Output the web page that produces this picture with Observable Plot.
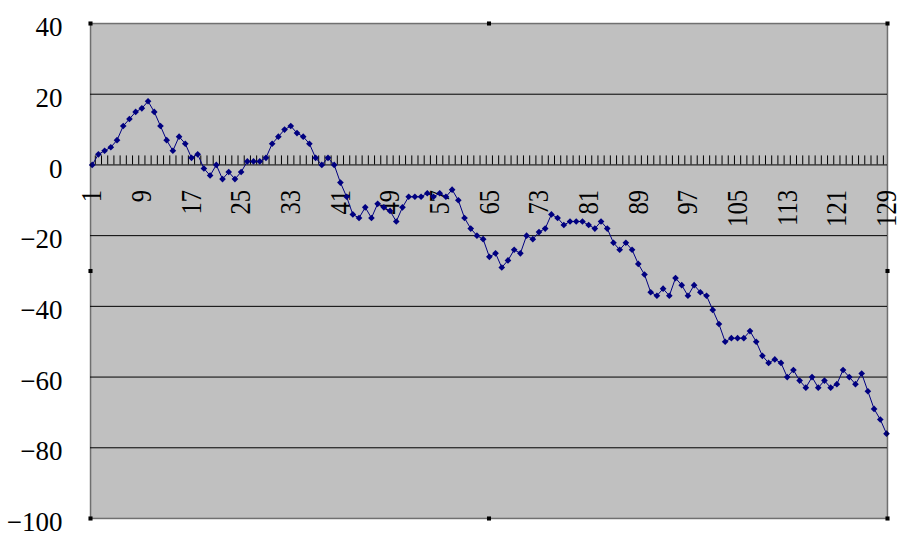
<!DOCTYPE html>
<html><head><meta charset="utf-8">
<script src="https://cdn.jsdelivr.net/npm/d3@7"></script>
<script src="https://cdn.jsdelivr.net/npm/@observablehq/plot@0.6"></script>
<style>body{margin:0;background:#fff}</style>
</head><body><div id="chart"></div>
<script>
const values = [
  0, 3, 4, 5, 7, 11, 13, 15, 16, 18,
  15, 11, 7, 4, 8, 6, 2, 3, -1, -3,
  0, -4, -2, -4, -2, 1, 1, 1, 2, 6,
  8, 10, 11, 9, 8, 6, 2, 0, 2, 0,
  -5, -9, -14, -15, -12, -15, -11, -12, -13, -16,
  -12, -9, -9, -9, -8, -9, -8, -9, -7, -10,
  -15, -18, -20, -21, -26, -25, -29, -27, -24, -25,
  -20, -21, -19, -18, -14, -15, -17, -16, -16, -16,
  -17, -18, -16, -18, -22, -24, -22, -24, -28, -31,
  -36, -37, -35, -37, -32, -34, -37, -34, -36, -37,
  -41, -45, -50, -49, -49, -49, -47, -50, -54, -56,
  -55, -56, -60, -58, -61, -63, -60, -63, -61, -63,
  -62, -58, -60, -62, -59, -64, -69, -72, -76
];
const categories = values.map((_, i) => i + 1);
const xTickLabels = [1, 9, 17, 25, 33, 41, 49, 57, 65, 73, 81, 89, 97, 105, 113, 121, 129];
const yTicks = [40, 20, 0, -20, -40, -60, -80, -100];
const gridValues = [20, -20, -40, -60, -80];
const handleAnchors = ["top-left", "top", "top-right", "left", "right", "bottom-left", "bottom", "bottom-right"];

const data = categories.map((c, i) => ({c, v: values[i]}));
const between = categories.slice(0, -1).map(c => c + 0.5);
const fmt = d => d < 0 ? "\u2212" + Math.abs(d) : String(d);

const chart = Plot.plot({
  width: 902, height: 539,
  marginLeft: 90, marginTop: 23, marginRight: 15, marginBottom: 21,
  style: {background: "white", color: "black", fontFamily: "'Liberation Serif', 'Times New Roman', serif"},
  x: {domain: [1, 129], range: [91.7, 886], axis: null},
  y: {domain: [-100, 40], axis: null},
  marks: [
    Plot.frame({fill: "#c0c0c0"}),
    Plot.ruleY(gridValues, {stroke: "black", strokeWidth: 1}),
    Plot.ruleY([0], {stroke: "black", strokeWidth: 1}),
    Plot.ruleX(between, {y1: 0, y2: 2.55, stroke: "black", strokeWidth: 1}),
    Plot.text(xTickLabels, {x: d => d, y: 0, text: d => String(d), rotate: -90, textAnchor: "end", dy: 25, fontSize: 29, fill: "black"}),
    Plot.line(data, {x: "c", y: "v", stroke: "#000080", strokeWidth: 1}),
    Plot.dot(data, {x: "c", y: "v", symbol: "diamond2", r: 3, fill: "#000080", stroke: "none"}),
    Plot.axisY(yTicks, {label: null, tickSize: 0, tickPadding: 28, fontSize: 27, dy: 4, tickFormat: fmt}),
    Plot.frame({stroke: "black", strokeDasharray: "1 1", strokeWidth: 1.5}),
    ...handleAnchors.map(a => Plot.dot([a], {frameAnchor: a, symbol: "square", r: 2.3, fill: "black", stroke: "none"}))
  ]
});
d3.select(chart).selectAll('g[aria-label="text"] text').attr("transform", function () {
  return this.getAttribute("transform") + " scale(0.85,1)";
});
document.getElementById("chart").appendChild(chart);
</script>
</body></html>
